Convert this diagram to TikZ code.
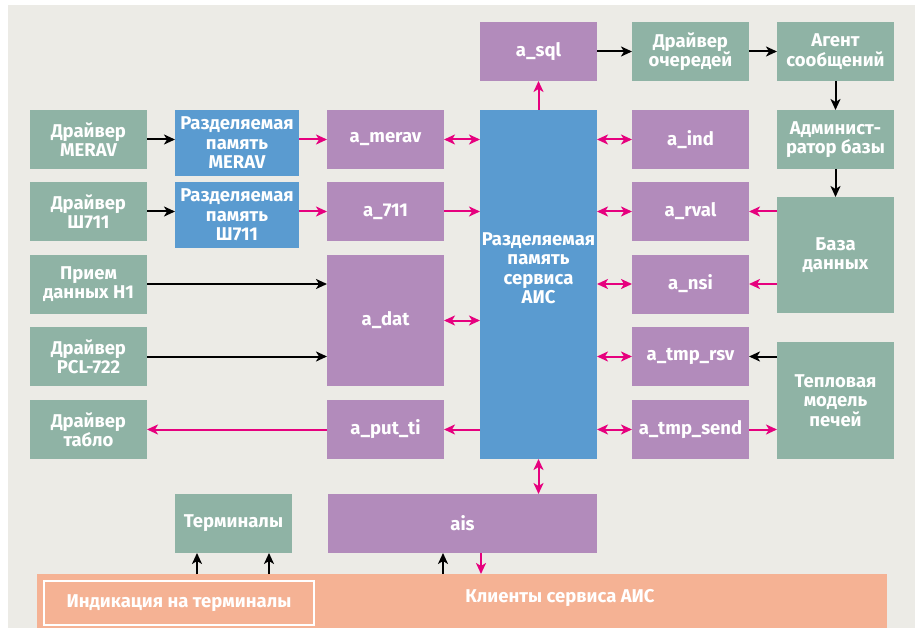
\documentclass[tikz,border=0pt]{standalone}
\usepackage{fontspec}
\setmainfont{Fira Sans}
\usetikzlibrary{arrows.meta}
\definecolor{bg}{HTML}{ECEBE6}
\definecolor{grn}{HTML}{8FB3A5}
\definecolor{blu}{HTML}{5A9BD0}
\definecolor{pur}{HTML}{B28BBB}
\definecolor{org}{HTML}{F5B294}
\definecolor{pnk}{HTML}{E6007E}
\begin{document}
\begin{tikzpicture}[x=1pt,y=-1pt,
  box/.style={inner sep=0pt, outer sep=0pt, align=center, text=white,
    font=\bfseries\fontsize{18.5}{19.5}\selectfont, anchor=center,
    minimum width=117pt, minimum height=59pt},
  gb/.style={box, fill=grn},
  pb/.style={box, fill=pur},
  bb/.style={box, fill=blu},
  ob/.style={box, fill=org},
  tip/.tip={Stealth[length=11pt,width=10pt,inset=3pt]},
  blk/.style={draw=black, line width=2pt, -tip},
  pk/.style={draw=pnk, line width=2pt, -tip},
  pkd/.style={draw=pnk, line width=2pt, tip-tip},
]
\useasboundingbox (0,0) rectangle (920,628);
\fill[white] (0,0) rectangle (920,628);
\fill[bg] (8,5) rectangle (915,628);

% left column
\node[gb] (dm) at (88.5,139.5) {Драйвер\\MERAV};
\node[gb] (d711) at (88.5,211.5) {Драйвер\\Ш711};
\node[gb] (pr) at (88.5,284) {Прием\\данных Н1};
\node[gb] (pcl) at (88.5,356.5) {Драйвер\\PCL-722};
\node[gb] (dt) at (88.5,429.5) {Драйвер\\табло};

% shared memory
\node[bb, minimum width=124pt, minimum height=66pt] (rpm) at (237,143) {Разделяемая\\память\\MERAV};
\node[bb, minimum width=124pt, minimum height=66pt] (rp711) at (237,215) {Разделяемая\\память\\Ш711};

% purple left-middle
\node[pb] (amerav) at (385.5,139.5) {a\_merav};
\node[pb] (a711) at (385.5,211.5) {a\_711};
\node[pb, minimum height=131pt] (adat) at (385.5,320.5) {a\_dat};
\node[pb] (aput) at (385.5,429.5) {a\_put\_ti};

% central
\node[bb, minimum height=349pt] (blue) at (538.5,284.5) {};
\node[box, minimum width=0pt, minimum height=0pt] (bluetxt) at (538.5,268) {Разделяемая\\память\\сервиса\\АИС};
\node[pb] (asql) at (538.5,51.5) {a\_sql};

% right purple
\node[pb] (aind) at (690.5,139.5) {a\_ind};
\node[pb] (arval) at (690.5,211.5) {a\_rval};
\node[pb] (ansi) at (690.5,284) {a\_nsi};
\node[pb] (atr) at (690.5,356.5) {a\_tmp\_rsv};
\node[pb] (ats) at (690.5,429.5) {a\_tmp\_send};
\node[gb] (dq) at (690.5,51.5) {Драйвер\\очередей};

% right green
\node[gb] (ag) at (835.5,51.5) {Агент\\сообщений};
\node[gb] (adm) at (835.5,139.5) {Админист-\\ратор базы};
\node[gb, minimum height=116pt] (db) at (835.5,255) {База\\данных};
\node[gb, minimum height=117pt] (tm) at (835.5,400.5) {Тепловая\\модель\\печей};

% bottom
\node[gb] (term) at (233.5,523.5) {Терминалы};
\node[pb, minimum width=269pt] (ais) at (462.5,523.5) {ais};
\node[ob, minimum width=850pt, minimum height=60pt] (kl) at (462,604) {};
\node[box, minimum width=0pt, minimum height=0pt] (kltxt) at (560,598) {Клиенты сервиса АИС};
\node[ob, minimum width=270pt, minimum height=44pt, draw=white, line width=1.5pt] (ind) at (179,603) {Индикация на терминалы};

% connectors left
\draw[blk] (dm.east) -- (dm.east -| rpm.west);
\draw[pk] (dm.east -| rpm.east) -- (amerav.west);
\draw[pkd] (amerav.east) -- (amerav.east -| blue.west);
\draw[blk] (d711.east) -- (d711.east -| rp711.west);
\draw[pk] (d711.east -| rp711.east) -- (a711.west);
\draw[pk] (a711.east) -- (a711.east -| blue.west);
\draw[blk] (pr.east) -- (pr.east -| adat.west);
\draw[blk] (pcl.east) -- (pcl.east -| adat.west);
\draw[pkd] (adat.east) -- (adat.east -| blue.west);
\draw[pk] (aput.east -| blue.west) -- (aput.east);
\draw[pk] (aput.west) -- (dt.east);

% top
\draw[pk] (blue.north) -- (asql.south);
\draw[blk] (asql.east) -- (dq.west);
\draw[blk] (dq.east) -- (ag.west);
\draw[blk] (ag.south) -- (adm.north);
\draw[blk] (adm.south) -- (db.north);

% right
\draw[pkd] (aind.west -| blue.east) -- (aind.west);
\draw[pkd] (arval.west -| blue.east) -- (arval.west);
\draw[pkd] (ansi.west -| blue.east) -- (ansi.west);
\draw[pkd] (atr.west -| blue.east) -- (atr.west);
\draw[pkd] (ats.west -| blue.east) -- (ats.west);
\draw[pk] (arval.east -| db.west) -- (arval.east);
\draw[pk] (ansi.east -| db.west) -- (ansi.east);
\draw[blk] (atr.east -| tm.west) -- (atr.east);
\draw[pk] (ats.east) -- (ats.east -| tm.west);

% bottom
\draw[pkd] (blue.south) -- (blue.south |- ais.north);
\coordinate (c1) at (481,0);
\coordinate (c2) at (443,0);
\coordinate (t1) at (197,0);
\coordinate (t2) at (269,0);
\draw[pk] (ais.south -| c1) -- (kl.north -| c1);
\draw[blk] (kl.north -| c2) -- (ais.south -| c2);
\draw[blk] (kl.north -| t1) -- (term.south -| t1);
\draw[blk] (kl.north -| t2) -- (term.south -| t2);
\end{tikzpicture}
\end{document}
